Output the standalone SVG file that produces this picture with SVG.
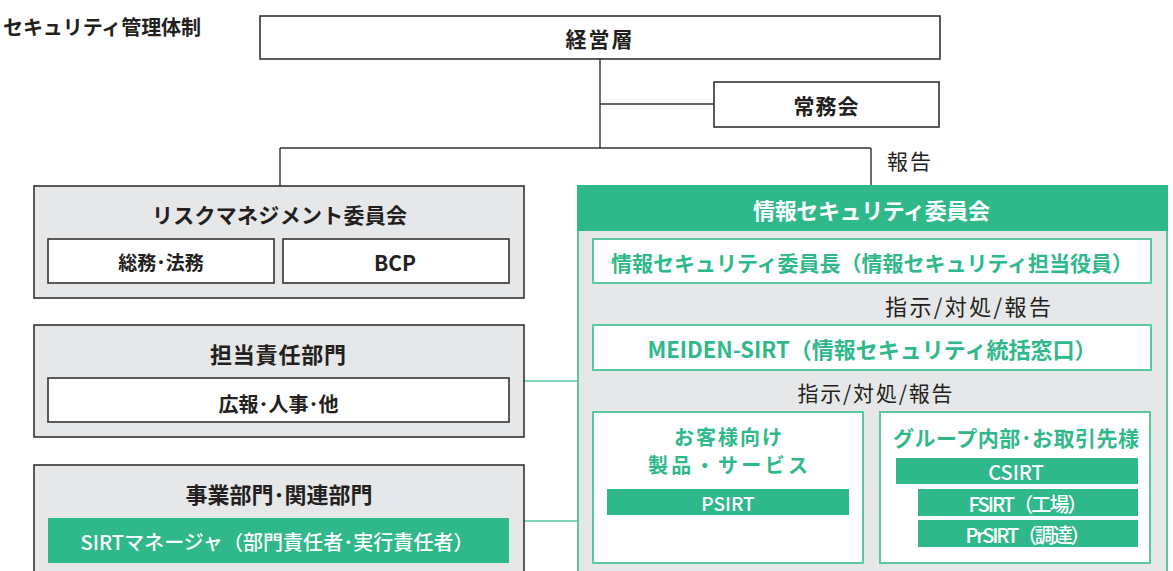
<svg xmlns="http://www.w3.org/2000/svg" width="1173" height="571" viewBox="0 0 1173 571">
<style>
text{font-family:"Noto Sans CJK JP","Noto Sans",sans-serif;dominant-baseline:central;text-anchor:middle}
.b{font-weight:700}
.dk{fill:#231f20}
.wt{fill:#ffffff}
.gt{fill:#2fb98a}
.box{fill:#ffffff;stroke:#333333;stroke-width:1.6}
.gbox{fill:#e6e7e8;stroke:#333333;stroke-width:1.6}
.gfill{fill:#2fb98a}
.gwbox{fill:#ffffff;stroke:#5cc6a0;stroke-width:2}
.ln{stroke:#333333;stroke-width:1.4;fill:none}
.gln{stroke:#5cc6a0;stroke-width:1.6;fill:none}
</style>
<rect width="1173" height="571" fill="#ffffff"/>
<text class="b dk" x="201" y="26" font-size="20" style="text-anchor:end" textLength="198">セキュリティ管理体制</text>

<g id="connectors">
<path class="ln" d="M600 59V148M600 104H714M280 148H871M280 148V186M871 148V186"/>
<path class="gln" d="M524 381H578M524 521H578"/>
<path class="gln" d="M876 283V325M729 370V412M1016 370V412M907 484V532M907 502H918M907 532H918"/>
</g>
<text class="dk" x="887" y="160" font-size="21" style="text-anchor:start" textLength="44">報告</text>

<g id="keieiso">
<rect class="box" x="260" y="16" width="680" height="43"/>
<text class="b dk" x="599" y="38" font-size="21" textLength="67">経営層</text>
</g>
<g id="jomukai">
<rect class="box" x="714" y="82" width="225" height="45"/>
<text class="b dk" x="826" y="104.5" font-size="21" textLength="65">常務会</text>
</g>

<g id="risk">
<rect class="gbox" x="34" y="186" width="490" height="112"/>
<text class="b dk" x="279.5" y="213.5" font-size="21" textLength="255">リスクマネジメント委員会</text>
<rect class="box" x="48" y="239" width="226" height="44"/>
<text class="b dk" x="161" y="261.5" font-size="19">総務･法務</text>
<rect class="box" x="283" y="239" width="226" height="44"/>
<text class="b dk" x="395" y="261.5" font-size="21">BCP</text>
</g>

<g id="tanto">
<rect class="gbox" x="34" y="325" width="490" height="112"/>
<text class="b dk" x="278" y="353" font-size="22" textLength="136">担当責任部門</text>
<rect class="box" x="48" y="378" width="461" height="44"/>
<text class="b dk" x="278.5" y="403.5" font-size="20">広報･人事･他</text>
</g>

<g id="jigyo">
<rect class="gbox" x="34" y="465" width="490" height="120"/>
<text class="b dk" x="279" y="492.5" font-size="22">事業部門･関連部門</text>
<rect class="gfill" x="48" y="518" width="461" height="45"/>
<text class="wt" x="277" y="541" font-size="20" font-weight="500" textLength="393">SIRTマネージャ（部門責任者･実行責任者）</text>
</g>

<g id="iinkai">
<rect x="578" y="186" width="589" height="400" fill="#e6e7e8" stroke="#5cc6a0" stroke-width="2"/>
<rect class="gfill" x="577" y="185" width="591" height="46"/>
<text class="b wt" x="871.5" y="209" font-size="22" textLength="237">情報セキュリティ委員会</text>
</g>

<g id="iincho">
<rect class="gwbox" x="593" y="239" width="558" height="44"/>
<text class="b gt" x="872" y="261.5" font-size="21" textLength="522">情報セキュリティ委員長（情報セキュリティ担当役員）</text>
</g>
<text class="dk" x="885" y="305" font-size="22" style="text-anchor:start" textLength="166">指示/対処/報告</text>

<g id="meiden">
<rect class="gwbox" x="593" y="325" width="558" height="45"/>
<text class="b gt" x="872" y="348" font-size="22" textLength="449">MEIDEN-SIRT（情報セキュリティ統括窓口）</text>
</g>
<text class="dk" x="875" y="392" font-size="21" textLength="155">指示/対処/報告</text>

<g id="okyaku">
<rect class="gwbox" x="593" y="412" width="270" height="151"/>
<text class="b gt" font-size="20"><tspan x="728" y="435.5" textLength="108">お客様向け</tspan><tspan x="728" y="464" textLength="160">製品・サービス</tspan></text>
<rect class="gfill" x="607" y="489" width="242" height="26"/>
<text class="wt" x="728" y="502.5" font-size="19" font-weight="500">PSIRT</text>
</g>

<g id="group">
<rect class="gwbox" x="880" y="412" width="270" height="151"/>
<text class="b gt" x="1016" y="437" font-size="21" textLength="246">グループ内部･お取引先様</text>
<rect class="gfill" x="896" y="458" width="242" height="26"/>
<text class="wt" x="1016" y="471.5" font-size="20" font-weight="500">CSIRT</text>
<rect class="gfill" x="918" y="489" width="220" height="27"/>
<text class="wt" x="1028" y="503" font-size="20" font-weight="500" textLength="119">FSIRT（工場）</text>
<rect class="gfill" x="918" y="520" width="220" height="27"/>
<text class="wt" x="1028" y="534" font-size="20" font-weight="500" textLength="125">PrSIRT（調達）</text>
</g>
</svg>
